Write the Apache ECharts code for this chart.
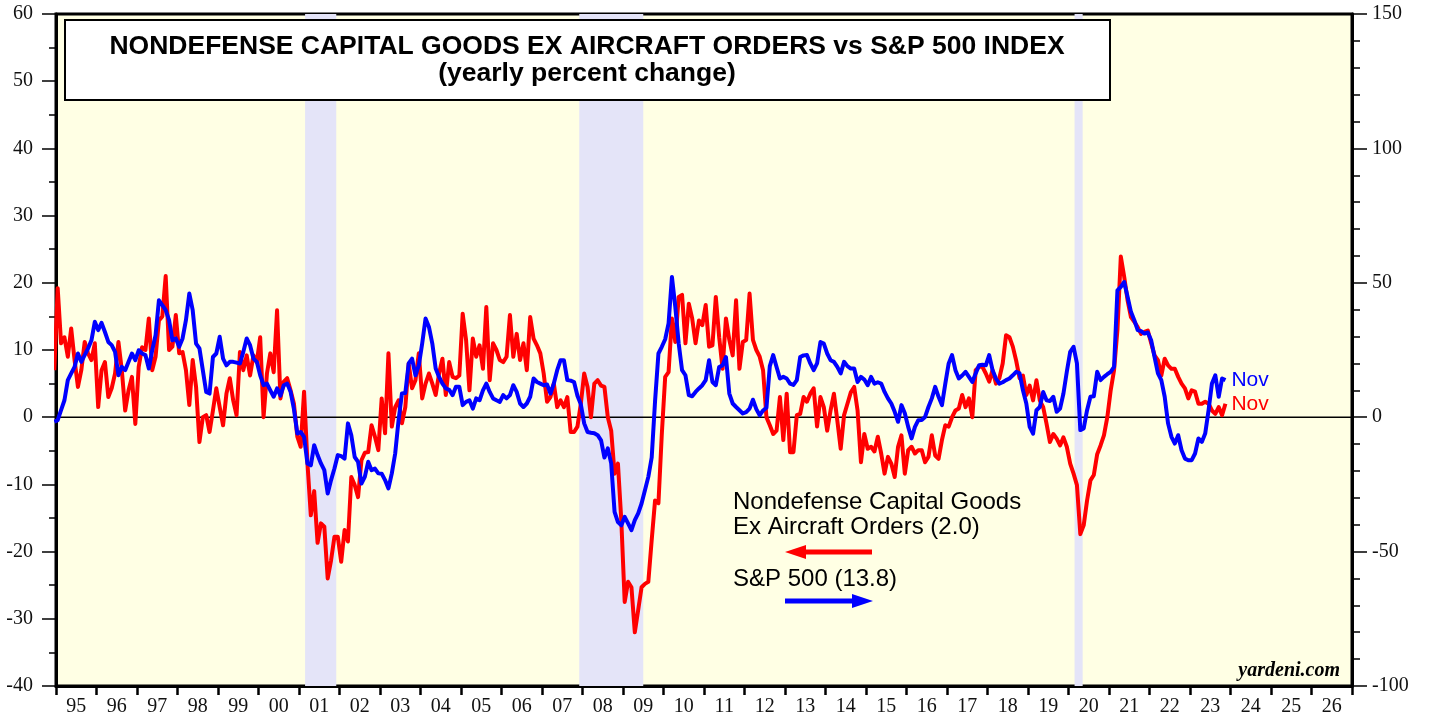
<!DOCTYPE html>
<html>
<head>
<meta charset="utf-8">
<title>Nondefense Capital Goods Ex Aircraft Orders vs S&amp;P 500 Index</title>
<script src="https://cdn.jsdelivr.net/npm/echarts@6/dist/echarts.min.js"></script>
<style>
  html, body { margin: 0; padding: 0; background: #fff; }
  #chart { width: 1429px; height: 719px; }
</style>
</head>
<body>
<div id="chart"></div>
<script>
// monthly yoy % series, first value is Dec 1994 (clipped at the left edge)
const firstYear = 1994;
const firstMonth = 11;

const yearLabels = ['95', '96', '97', '98', '99', '00', '01', '02', '03', '04', '05', '06', '07', '08', '09', '10',
    '11', '12', '13', '14', '15', '16', '17', '18', '19', '20', '21', '22', '23', '24', '25', '26'];

// recession bands, in decimal years
const recessions = [[2001.15, 2001.92], [2007.92, 2009.5], [2020.15, 2020.35]];

// nondefense capital goods ex aircraft orders, yoy % (left axis)
const capexOrders = [
    7,
    19.2, 11, 11.9, 9, 13.2, 8.5, 4.5, 7, 11.2, 9.5, 8.5, 11,
    1.5, 7, 8.2, 3, 4.3, 6.5, 11.2, 7, 1, 4, 6, -1,
    7.5, 10.4, 10, 14.7, 7, 9, 14.4, 15, 21, 10, 10.5, 15.2,
    9.5, 9.7, 7, 1.8, 8.5, 4.5, -3.7, 0, 0.3, -2.2, 1, 4.3,
    1.5, -1.2, 3.5, 5.8, 2.5, 0.3, 9.7, 7, 9.2, 6.2, 9.2, 8.2,
    11.9, 0, 6.5, 9.5, 6.7, 15.9, 2.8, 5.3, 5.8, 4, 2, -2.9,
    -4.4, 3.8, -6.8, -14.6, -11, -18.7, -15.8, -16.3, -24, -21.3, -17.8, -17.8,
    -21.5, -16.8, -18.5, -8.9, -10.1, -11.9, -6.4, -5.3, -5.2, -1.2, -2.9, -4.9,
    2.8, -2.4, 9.5, -1.4, 1.5, 2.5, -0.9, 1.5, 8, 4.3, 5.5, 9.5,
    2.8, 5, 6.5, 5, 3.3, 6.5, 8.7, 3.3, 8.2, 6, 5.8, 6.2,
    15.4, 11.5, 4, 11.7, 9, 10.7, 7.2, 16.4, 5.5, 11, 10, 8.5,
    8.2, 9, 15.2, 9, 12.4, 8.5, 11, 7, 14.9, 11.7, 10.7, 9.5,
    6.5, 2.3, 3, 5, 1.5, 2.5, 1.5, 3, -2.2, -2.2, -1.4, 2,
    6.5, 4.5, 0, 5, 5.5, 4.7, 4.5, 0, -2, -8.4, -6.9, -15.4,
    -27.5, -24.5, -25.3, -32, -28.7, -25.3, -24.8, -24.5, -18.3, -12.4, -12.8, -2.5,
    6, 6.7, 14.7, 11.2, 17.9, 18.2, 11, 16.9, 14.7, 11, 14.4, 13.7,
    16.7, 10.5, 10.7, 17.9, 11.9, 7.2, 14.7, 11.5, 9.2, 17.4, 7.2, 11.2,
    11.5, 18.4, 11.5, 10, 9, 7, 0, -1.2, -2.5, -2, 3, -3.4,
    3.5, -5.2, -5.2, 0.3, 0.5, 3, 2.3, 3.5, 4.3, -1.4, 3, 1.5,
    -2, 1, 3.5, -0.5, -4.7, 0.3, 2, 3.7, 4.5, 1, -6.7, -2.5,
    -4.7, -4.4, -5.1, -2.9, -5.4, -8.4, -5.9, -6.9, -8.9, -4.4, -2.7, -8.4,
    -4.9, -4.4, -5.4, -4.9, -4.9, -6.7, -5.9, -2.7, -5.7, -6.2, -3.4, -1.2,
    -1.4, 0, 1, 1.3, 3.3, 1.5, 2.8, 0, 7, 7.5, 7.5, 6.5,
    5.3, 7, 5, 5.8, 8, 12.2, 11.9, 10.5, 8.4, 5.8, 6.2, 3.3,
    4.7, 2.5, 5.5, 2.5, 1.5, -1, -3.7, -2.5, -3.2, -4.2, -3, -4.4,
    -6.9, -8.4, -10.1, -17.4, -16.1, -12.4, -9.4, -8.6, -5.5, -4.2, -2.7, 0,
    4, 7, 13, 23.9, 20.9, 17.4, 14.9, 14.2, 13.4, 12.4, 12.7, 12.9,
    11, 9.2, 8.5, 6.2, 8.7, 7.7, 7.2, 7.2, 6, 5, 4.3, 2.8,
    4, 3.8, 2, 2, 2.3, 2, 1, 0.5, 1.5, 0.3, 2
];

// S&P 500 index, yoy % (right axis)
const sp500 = [
    -1.7,
    -1.1, 2.6, 6.3, 13.8, 16.3, 18.7, 23.7, 20.6, 23.1, 25.6, 28.6, 35.5,
    32.4, 35.1, 31.7, 28, 26.8, 24.3, 15.6, 18.7, 17.5, 20.6, 23.7, 21.2,
    24.9, 23.7, 23.1, 18.1, 24.9, 30.5, 43.5, 41.7, 39.8, 36.1, 28.6, 29.3,
    26.2, 29.3, 36.1, 46, 39.8, 27.4, 25.6, 17.5, 9.4, 8.8, 22.4, 23.7,
    29.9, 21.8, 19.3, 20.6, 20.6, 20.3, 20, 24.3, 29.3, 26.8, 21.8, 20.6,
    15.6, 11.9, 12.5, 10, 7.6, 10.7, 8, 11.9, 12.5, 9.5, 3, -6.1,
    -5.5, -7.3, -17.2, -17.9, -10.4, -14.1, -17.2, -19.7, -28.4, -23.4, -19.1, -14.1,
    -14.5, -15.4, -2.3, -6.7, -14.8, -16.6, -24.7, -22.2, -16.6, -19.7, -19.1, -20.9,
    -21, -23.4, -26.5, -20.9, -13.5, -1.1, 8.8, 9, 20, 21.8, 15.6, 19.3,
    27.4, 36.7, 33.6, 27.4, 18.1, 15, 12.5, 10.7, 10.2, 8.2, 11.3, 11.3,
    4.5, 5.7, 6.3, 3.2, 7, 6.3, 10, 12.5, 9.4, 7, 6.3, 5.7,
    8.2, 7, 8.2, 11.9, 9.4, 5.1, 3.8, 5.1, 7.6, 14.4, 13.1, 12.5,
    11.9, 12.2, 8.8, 12.5, 17.5, 21.2, 21.2, 13.8, 13.6, 13.1, 8, 4.8,
    -2.3, -5.5, -5.8, -6, -6.7, -8.6, -15, -11.6, -17.2, -35.2, -39, -40.2,
    -37.1, -39.5, -42, -38.3, -35.8, -32.1, -27.2, -22.2, -15, 6, 23.7, 26.2,
    29, 34.9, 52.2, 41, 27.4, 17.5, 15.6, 8.2, 7.8, 9.4, 10.7, 11.9,
    13.8, 21.2, 13.1, 11.9, 18.7, 19.3, 22.4, 8.8, 5.1, 3.8, 2.6, 1.4,
    1.9, 3.2, 6.5, 3, 0.7, 2.5, 3.5, 19, 23.1, 18.7, 14.4, 15,
    14.4, 12.5, 12, 13.8, 22.4, 23, 23.1, 20, 17.5, 20, 28, 27.4,
    23.7, 21.2, 20.6, 18.7, 16.3, 20.6, 19, 18.1, 18.1, 13.1, 15, 14,
    11.9, 15, 12.5, 13, 12.5, 9.4, 7, 5.1, 2, -1.7, 4.5, 1.5,
    -3.6, -7.9, -3.6, -1.1, -1, 0.1, 3.8, 7, 11.3, 7.6, 4.5, 12.5,
    20, 23.1, 17.5, 14.4, 15.5, 16.9, 15, 13.1, 16.3, 19.3, 19.5, 19.3,
    23.1, 17.5, 14.4, 12.5, 13, 13.8, 14.4, 15.6, 16.9, 16.3, 10, 5.1,
    -3.6, -6.1, 2.6, 3.8, 9.4, 6.3, 6, 7.6, 2, 3.2, 8.8, 16.9,
    24.3, 26.2, 20, -4.8, -4.2, 2.6, 7.6, 7.8, 16.9, 13.8, 15, 16,
    16.9, 18.7, 47.2, 48.5, 50.3, 44.8, 39.2, 36.1, 32.4, 32, 31.1, 31.5,
    28.6, 22.4, 16.3, 13.8, 7.6, -2.3, -7.3, -9.8, -6.7, -12.3, -15.4, -16,
    -16, -13.5, -7.9, -9.2, -6.1, 2.6, 12.5, 15.6, 7.6, 14.4, 13.8
];

const lastMonthLabel = 'Nov';

// month i -> decimal year at mid-month
function toPoints(values) {
    return values.map(function (v, i) {
        return [firstYear + (firstMonth + i + 0.5) / 12, v];
    });
}

const axisFont = 'Liberation Serif';
const sansFont = 'Liberation Sans';

const chart = echarts.init(document.getElementById('chart'));
chart.setOption({
    animation: false,
    grid: {
        left: 56, right: 77, top: 14, bottom: 33,
        show: true,
        backgroundColor: '#FFFFE4',
        borderColor: '#000',
        borderWidth: 3
    },
    xAxis: [
        { type: 'value', min: 1995, max: 2027, show: false },
        {
            type: 'category',
            data: yearLabels,
            position: 'bottom',
            boundaryGap: true,
            axisLine: { onZero: false, lineStyle: { color: '#000', width: 3 } },
            axisTick: { show: true, interval: 0, length: 9, lineStyle: { color: '#000', width: 2.5 } },
            axisLabel: { interval: 0, margin: 11, fontFamily: axisFont, fontSize: 20, color: '#111' },
            splitLine: { show: false }
        }
    ],
    yAxis: [
        {
            type: 'value',
            position: 'left',
            min: -40, max: 60, interval: 10,
            axisLine: { show: true, onZero: false, lineStyle: { color: '#000', width: 3 } },
            axisTick: { show: true, length: 14, lineStyle: { color: '#000', width: 1.5 } },
            minorTick: { show: true, splitNumber: 2, length: 7, lineStyle: { color: '#000', width: 1.5 } },
            splitLine: { show: false },
            axisLabel: { margin: 23, fontFamily: axisFont, fontSize: 20, color: '#111' }
        },
        {
            type: 'value',
            position: 'right',
            min: -100, max: 150, interval: 50,
            axisLine: { show: true, onZero: false, lineStyle: { color: '#000', width: 3 } },
            axisTick: { show: true, length: 15, lineStyle: { color: '#000', width: 1.5 } },
            minorTick: { show: true, splitNumber: 5, length: 8, lineStyle: { color: '#000', width: 1.5 } },
            splitLine: { show: false },
            axisLabel: { margin: 20, fontFamily: axisFont, fontSize: 20, color: '#111' }
        }
    ],
    series: [
        {
            // zero line + recession bands
            type: 'line',
            xAxisIndex: 0,
            yAxisIndex: 0,
            data: [[1995, 0], [2027, 0]],
            symbol: 'none',
            silent: true,
            z: 2,
            lineStyle: { color: '#000', width: 1.5 },
            markArea: {
                silent: true,
                itemStyle: { color: '#E4E4F8' },
                data: recessions.map(function (r) {
                    return [{ xAxis: r[0] }, { xAxis: r[1] }];
                })
            }
        },
        {
            name: 'Nondefense Capital Goods Ex Aircraft Orders',
            type: 'line',
            xAxisIndex: 0,
            yAxisIndex: 0,
            data: toPoints(capexOrders),
            symbol: 'none',
            z: 3,
            lineStyle: { color: '#FF0000', width: 4, join: 'round' },
            itemStyle: { color: '#FF0000' },
            endLabel: {
                show: true,
                formatter: lastMonthLabel,
                color: '#FF0000',
                fontFamily: sansFont,
                fontSize: 21,
                distance: 6
            }
        },
        {
            name: 'S&P 500',
            type: 'line',
            xAxisIndex: 0,
            yAxisIndex: 1,
            data: toPoints(sp500),
            symbol: 'none',
            z: 4,
            lineStyle: { color: '#0000FF', width: 4, join: 'round' },
            itemStyle: { color: '#0000FF' },
            endLabel: {
                show: true,
                formatter: lastMonthLabel,
                color: '#0000FF',
                fontFamily: sansFont,
                fontSize: 21,
                distance: 6
            }
        }
    ],
    graphic: [
        {
            type: 'rect', z: 100,
            shape: { x: 65, y: 20, width: 1045, height: 80 },
            style: { fill: '#fff', stroke: '#000', lineWidth: 2 }
        },
        {
            type: 'text', z: 101, x: 587, y: 47,
            style: {
                text: 'NONDEFENSE CAPITAL GOODS EX AIRCRAFT ORDERS vs S&P 500 INDEX',
                font: 'bold 26.5px "Liberation Sans"', fill: '#000', align: 'center', verticalAlign: 'middle'
            }
        },
        {
            type: 'text', z: 101, x: 587, y: 74,
            style: {
                text: '(yearly percent change)',
                font: 'bold 26.5px "Liberation Sans"', fill: '#000', align: 'center', verticalAlign: 'middle'
            }
        },
        {
            type: 'text', z: 101, x: 733, y: 490,
            style: {
                text: 'Nondefense Capital Goods\nEx Aircraft Orders (2.0)',
                font: '24px "Liberation Sans"', lineHeight: 25, fill: '#000', align: 'left', verticalAlign: 'top'
            }
        },
        {
            type: 'text', z: 101, x: 733, y: 567,
            style: {
                text: 'S&P 500 (13.8)',
                font: '24px "Liberation Sans"', fill: '#000', align: 'left', verticalAlign: 'top'
            }
        },
        {
            type: 'line', z: 101,
            shape: { x1: 802, y1: 552, x2: 872, y2: 552 },
            style: { stroke: '#FF0000', lineWidth: 5 }
        },
        {
            type: 'polygon', z: 101,
            shape: { points: [[785, 552], [806, 545], [806, 559]] },
            style: { fill: '#FF0000' }
        },
        {
            type: 'line', z: 101,
            shape: { x1: 785, y1: 601, x2: 856, y2: 601 },
            style: { stroke: '#0000FF', lineWidth: 5 }
        },
        {
            type: 'polygon', z: 101,
            shape: { points: [[873, 601], [852, 594], [852, 608]] },
            style: { fill: '#0000FF' }
        },
        {
            type: 'text', z: 101, x: 1340, y: 671,
            style: {
                text: 'yardeni.com',
                font: 'italic bold 20px "Liberation Serif"', fill: '#000', align: 'right', verticalAlign: 'middle'
            }
        }
    ]
});
</script>
</body>
</html>
